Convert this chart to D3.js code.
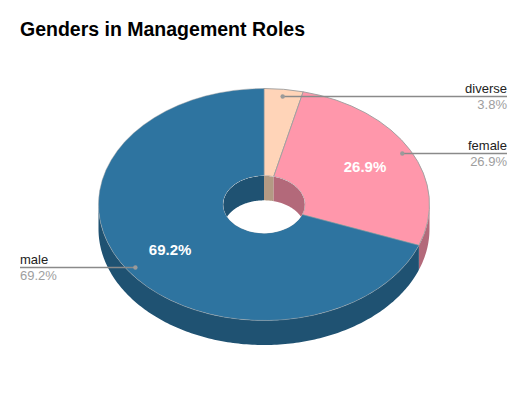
<!DOCTYPE html>
<html><head><meta charset="utf-8">
<script src="https://cdn.jsdelivr.net/npm/d3@7"></script>
<style>html,body{margin:0;background:#fff}svg{display:block}text{font-family:"Liberation Sans",Arial,sans-serif}</style>
</head><body><svg id="c" width="528" height="402"></svg>
<script>
const categories = ["diverse", "female", "male"];
const seriesValues = [3.8, 26.9, 69.2];
const topColors = ["#ffd4b8", "#ff97ab", "#2e74a0"];
const wallColors = ["#b39a84", "#b3697a", "#1f5272"];
const chartTitle = "Genders in Management Roles";
// label anchors: side of the leader line
const labelSides = ["right", "right", "left"];
const showInner = [false, true, true];

const W = 528, H = 402, cx = 264, cy = 204.5, rx = 165.5, ry = 116, depth = 24.5, innerFrac = 0.247;
const svg = d3.select("#c");
const pie = d3.pie().sort(null).value(d => d.value);
const slices = pie(categories.map((name, i) => ({name, value: seriesValues[i], i})));
const rScaleX = d3.scaleLinear().domain([0, 1]).range([0, rx]);
const rScaleY = d3.scaleLinear().domain([0, 1]).range([0, ry]);
const pt = (t, r, dy = 0) => [cx + rScaleX(r) * Math.sin(t), cy - rScaleY(r) * Math.cos(t) + dy];
const line = d3.line();
const samples = (a, b) => { const n = Math.max(2, Math.ceil((b - a) * 60)); return d3.range(n + 1).map(k => a + (b - a) * k / n); };
function wall(a, b, r) {
  const ts = samples(a, b);
  return line(ts.map(t => pt(t, r)).concat(ts.slice().reverse().map(t => pt(t, r, depth)))) + "Z";
}

// outer wall (front half only)
const front = [Math.PI / 2, 3 * Math.PI / 2];
slices.forEach(s => {
  const a = Math.max(s.startAngle, front[0]), b = Math.min(s.endAngle, front[1]);
  if (b > a) svg.append("path").attr("d", wall(a, b, 1)).attr("fill", wallColors[s.data.i]);
});

// top face
const arc = d3.arc().innerRadius(rx * innerFrac).outerRadius(rx);
const topFace = svg.append("g").attr("transform", `translate(${cx},${cy}) scale(1,${ry / rx})`);
topFace.selectAll("path").data(slices).join("path")
  .attr("d", arc)
  .attr("fill", d => topColors[d.data.i])
  .attr("stroke", "#a0a0a0").attr("stroke-opacity", d => d.data.i === 2 ? 0.45 : 0.95)
  .attr("stroke-width", 1).attr("stroke-linejoin", "round")
  .attr("vector-effect", "non-scaling-stroke");

// hole
svg.append("ellipse").attr("cx", cx).attr("cy", cy).attr("rx", rx * innerFrac).attr("ry", ry * innerFrac).attr("fill", "#fff");
svg.append("clipPath").attr("id", "hole").append("ellipse")
  .attr("cx", cx).attr("cy", cy).attr("rx", rx * innerFrac).attr("ry", ry * innerFrac);
const holeG = svg.append("g").attr("clip-path", "url(#hole)");
slices.forEach(s => {
  // back half of the hole: angles near 0 / 2pi
  [[s.startAngle, Math.min(s.endAngle, Math.PI / 2)], [Math.max(s.startAngle, 3 * Math.PI / 2), s.endAngle]].forEach(([a, b]) => {
    if (b > a) holeG.append("path").attr("d", wall(a, b, innerFrac)).attr("fill", wallColors[s.data.i]);
  });
});

// leader lines + labels
const rightEnd = 507, leftEnd = 20;
slices.forEach(s => {
  const i = s.data.i, mid = (s.startAngle + s.endAngle) / 2;
  const [px, py0] = pt(mid, 0.945);
  const py = Math.round(py0) + 0.5;
  const right = labelSides[i] === "right";
  const xEnd = right ? rightEnd : leftEnd;
  svg.append("line").attr("x1", px).attr("y1", py).attr("x2", xEnd).attr("y2", py)
    .attr("stroke", "#8a8a8a").attr("stroke-width", 1.5);
  svg.append("circle").attr("cx", px).attr("cy", py).attr("r", 2.2).attr("fill", "#9a9a9a");
  svg.append("text").attr("x", xEnd).attr("y", py - 4).attr("text-anchor", right ? "end" : "start")
    .attr("font-size", 13).attr("fill", "#222").text(s.data.name);
  svg.append("text").attr("x", xEnd).attr("y", py + 12.5).attr("text-anchor", right ? "end" : "start")
    .attr("font-size", 13).attr("fill", "#9e9e9e").text(s.data.value.toFixed(1) + "%");
  if (showInner[i]) {
    const [lx, ly] = pt(mid, 0.69);
    svg.append("text").attr("x", lx).attr("y", ly + 1).attr("text-anchor", "middle").attr("dominant-baseline", "middle")
      .attr("font-size", 15).attr("font-weight", "bold").attr("fill", "#fff").text(s.data.value.toFixed(1) + "%");
  }
});

svg.append("text").attr("x", 20).attr("y", 35.5).attr("font-size", 19.5).attr("font-weight", "bold").attr("fill", "#000").text(chartTitle);
</script></body></html>
